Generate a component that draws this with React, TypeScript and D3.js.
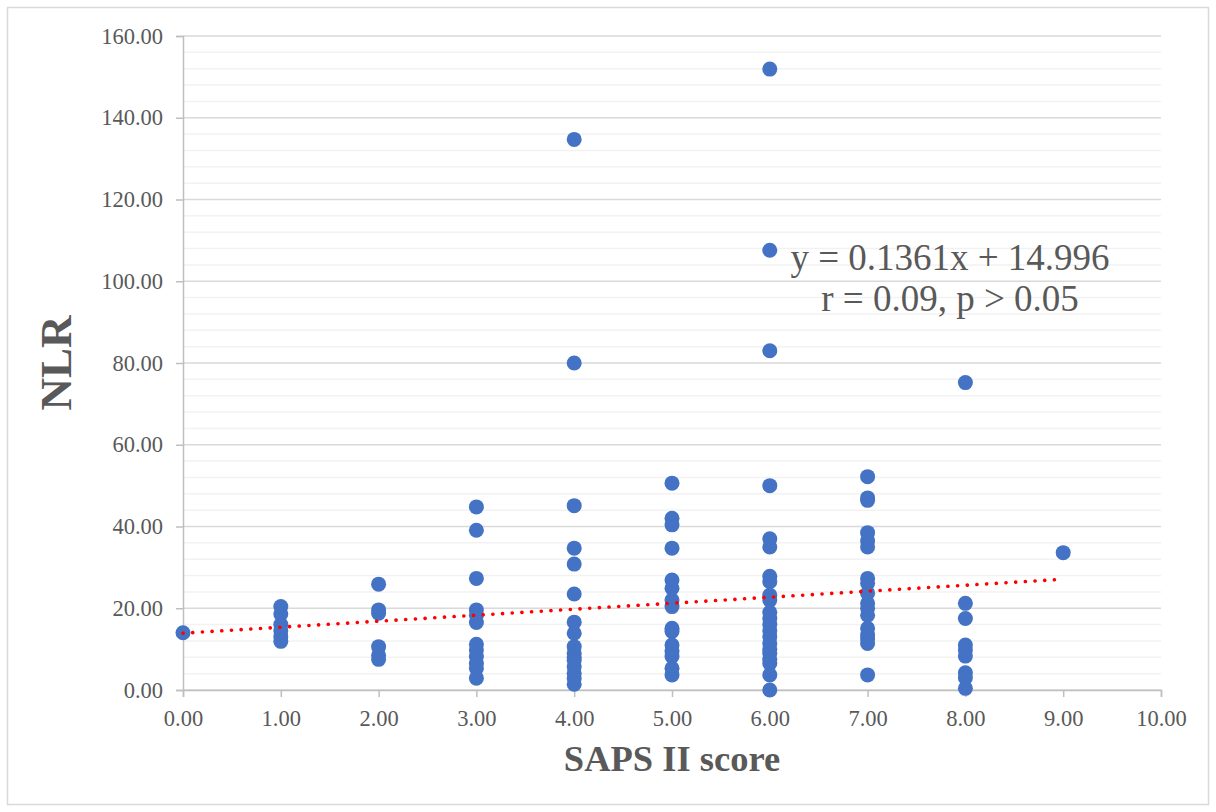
import { useEffect, useRef } from "react";
import * as d3 from "d3";

const W = 1216, H = 812;
const M = { left: 183, right: 55, top: 36, bottom: 122 };
const IW = W - M.left - M.right;
const IH = H - M.top - M.bottom;

const SCORES = [0, 1, 2, 3, 4, 5, 6, 7, 8, 9];
const NLR_BY_SCORE = [
  [14.0],
  [20.4, 18.6, 16.0, 14.5, 13.0, 11.9],
  [25.9, 19.6, 18.8, 10.6, 8.5, 7.5],
  [44.8, 39.1, 27.3, 19.6, 18.3, 16.5, 11.2, 9.8, 8.2, 6.5, 5.3, 2.9],
  [134.7, 80.0, 45.1, 34.7, 30.8, 23.5, 16.6, 13.9, 10.6, 9.0, 8.0, 7.3, 5.7, 4.1, 2.9, 1.4],
  [50.6, 42.0, 40.4, 34.7, 26.9, 24.9, 22.0, 20.4, 15.1, 14.3, 11.0, 9.4, 8.2, 5.3, 3.7],
  [151.9, 107.6, 83.0, 50.0, 37.0, 35.0, 27.8, 26.5, 23.2, 22.0, 19.0, 17.5, 16.0, 14.5, 13.0, 11.4, 10.0, 9.0, 7.5, 6.5, 3.7, 0.0],
  [52.2, 47.0, 46.4, 38.5, 36.5, 35.0, 27.3, 26.1, 23.7, 21.2, 20.0, 18.3, 15.1, 13.5, 12.5, 11.4, 3.7],
  [75.2, 21.2, 17.5, 11.0, 9.8, 8.3, 4.2, 3.0, 0.4],
  [33.6],
];
const TREND_X = [0, 9];
const TREND_Y = [13.9, 27.1];
const X_TICKS = d3.range(0, 10.01, 1);
const Y_TICKS = d3.range(0, 160.01, 20);
const Y_MINOR = d3.range(0, 160.01, 4);
const EQ_LINES = ["y = 0.1361x + 14.996", "r = 0.09, p > 0.05"];

const FONT = "'Liberation Serif', 'Times New Roman', serif";
const TEXT = "#595959";

export default function App() {
  const ref = useRef<SVGSVGElement>(null);

  useEffect(() => {
    const svg = d3.select(ref.current);
    svg.selectAll("*").remove();

    const x = d3.scaleLinear().domain([0, 10]).range([0, IW]);
    const y = d3.scaleLinear().domain([0, 160]).range([IH, 0]);

    svg.append("rect").attr("x", 7.5).attr("y", 7.5).attr("width", W - 15).attr("height", H - 15)
      .attr("fill", "#fff").attr("stroke", "#D9D9D9").attr("stroke-width", 1.5);

    const g = svg.append("g").attr("transform", `translate(${M.left},${M.top})`);

    // minor + major gridlines
    g.append("g").selectAll("line").data(Y_MINOR).join("line")
      .attr("x1", 0).attr("x2", IW).attr("y1", d => y(d)).attr("y2", d => y(d))
      .attr("stroke", d => (d % 20 === 0 ? "#D9D9D9" : "#F2F2F2")).attr("stroke-width", 1.5);

    // axes
    const yAxis = g.append("g")
      .call(d3.axisLeft(y).tickValues(Y_TICKS).tickSize(7).tickPadding(13).tickFormat(d3.format(".2f")));
    yAxis.select(".domain").attr("stroke", "#BFBFBF").attr("stroke-width", 1.5);
    yAxis.selectAll(".tick line").attr("stroke", "#BFBFBF").attr("stroke-width", 1.5);
    yAxis.selectAll("text").attr("fill", TEXT).attr("font-size", 22.5).attr("font-family", FONT);

    const xAxis = g.append("g").attr("transform", `translate(0,${IH})`)
      .call(d3.axisBottom(x).tickValues(X_TICKS).tickSize(7).tickPadding(13).tickFormat(d3.format(".2f")));
    xAxis.select(".domain").attr("stroke", "#BFBFBF").attr("stroke-width", 1.5);
    xAxis.selectAll(".tick line").attr("stroke", "#BFBFBF").attr("stroke-width", 1.5);
    xAxis.selectAll("text").attr("fill", TEXT).attr("font-size", 22.5).attr("font-family", FONT);

    // points
    const pts = SCORES.flatMap((s, i) => NLR_BY_SCORE[i].map(v => ({ s, v })));
    g.append("g").selectAll("circle").data(pts).join("circle")
      .attr("cx", d => x(d.s)).attr("cy", d => y(d.v)).attr("r", 7.5)
      .attr("fill", "#4472C4");

    // trendline
    const line = d3.line<number>().x((_, i) => x(TREND_X[i])).y(d => y(d));
    g.append("path").datum(TREND_Y).attr("d", line)
      .attr("fill", "none").attr("stroke", "#FF0000").attr("stroke-width", 3.6)
      .attr("stroke-linecap", "round").attr("stroke-dasharray", "0.1 9.6");

    // equation
    const eq = svg.append("text").attr("font-family", FONT).attr("font-size", 37)
      .attr("fill", TEXT).attr("text-anchor", "middle");
    EQ_LINES.forEach((t, i) => {
      eq.append("tspan").attr("x", 950).attr("y", 270 + i * 41).text(t);
    });

    // axis titles
    svg.append("text").attr("x", M.left + IW / 2).attr("y", 771)
      .attr("text-anchor", "middle").attr("font-family", FONT).attr("font-weight", "bold")
      .attr("font-size", 36.5).attr("fill", TEXT).text("SAPS II score");
    svg.append("text").attr("transform", `translate(71,${M.top + IH / 2}) rotate(-90)`)
      .attr("text-anchor", "middle").attr("font-family", FONT).attr("font-weight", "bold")
      .attr("font-size", 45).attr("fill", TEXT).text("NLR");
  }, []);

  return (
    <div style={{ position: "absolute", left: 0, top: 0, width: W, height: H, background: "#fff" }}>
      <svg ref={ref} width={W} height={H} style={{ display: "block" }} />
    </div>
  );
}
